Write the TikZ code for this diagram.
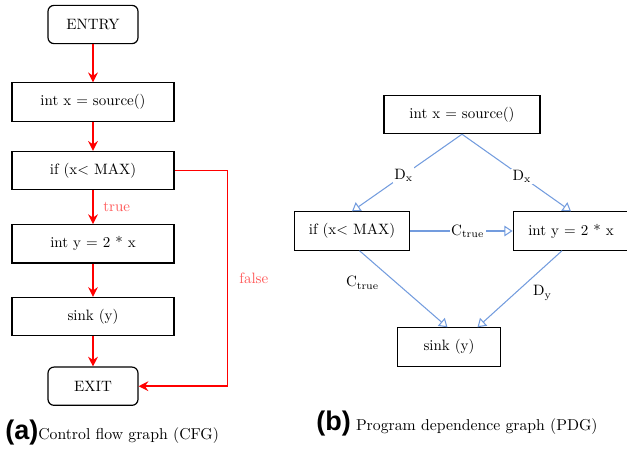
\documentclass[tikz,border=0pt]{standalone}
\usepackage{fontspec}
\newfontfamily\capfont{Liberation Sans}
\usetikzlibrary{arrows.meta,calc}
\definecolor{FlowClr}{rgb}{1,0,0}
\definecolor{LabelClr}{rgb}{1,0.35,0.35}
\definecolor{DepClr}{rgb}{0.45,0.61,0.87}

\begin{document}
\begin{tikzpicture}[x=0.6667pt,y=-0.6667pt,
  stmt/.style={draw,line width=0.8pt,minimum height=25.5pt,inner sep=2pt},
  term/.style={stmt,rounded corners=4pt,minimum width=60pt},
  cfg/.style={stmt,minimum width=108pt},
  flow/.style={draw=FlowClr,line width=1.1pt,-{Stealth[length=6.5pt,width=6.5pt,inset=2.2pt]}},
  dep/.style={draw=DepClr,line width=0.7pt,-{Triangle[open,length=5.5pt,width=7pt]}},
  deplbl/.style={fill=white,inner sep=1pt},
  caption/.style={anchor=base west,inner sep=0pt,font=\fontsize{10.5}{12}\selectfont}]
\useasboundingbox (0,0) rectangle (627,456);

\node[term] (entry) at (93,24.5) {ENTRY};
\node[cfg] (srcA) at (93,102) {int x = source()};
\node[cfg] (ifA) at (93,170.5) {if (x< MAX)};
\node[cfg] (intyA) at (93,243.8) {int y = 2 * x};
\node[cfg] (sinkA) at (93,316.6) {sink (y)};
\node[term] (exit) at (93,386.2) {EXIT};

\draw[flow] (entry) -- (srcA);
\draw[flow] (srcA) -- (ifA);
\draw[flow] (ifA) -- node[right=3pt,text=LabelClr] {true} (intyA);
\draw[flow] (intyA) -- (sinkA);
\draw[flow] (sinkA) -- (exit);
\draw[flow] (ifA.east) -- ++(53,0) |- node[pos=0.25,right=4pt,text=LabelClr] {false} (exit.east);

\node[stmt,minimum width=104pt] (srcB) at (462,114.5) {int x = source()};
\node[stmt,minimum width=77pt] (ifB) at (352,231) {if (x< MAX)};
\node[stmt,minimum width=77pt] (intyB) at (571,231) {int y = 2 * x};
\node[stmt,minimum width=69pt] (sinkB) at (449,347) {sink (y)};

\draw[dep] (srcB.south) -- node[pos=0.53,deplbl] {D$_\mathrm{x}$} (ifB.north);
\draw[dep] (srcB.south) -- node[pos=0.55,deplbl] {D$_\mathrm{x}$} (intyB.north);
\draw[dep] (ifB.east) -- node[pos=0.56,deplbl] {C$_\mathrm{true}$} (intyB.west);
\draw[dep] ([xshift=5pt]ifB.south) -- node[pos=0.42,left=8pt] {C$_\mathrm{true}$} ([xshift=-1pt]sinkB.north);
\draw[dep] ([xshift=-6pt]intyB.south) -- node[pos=0.55,right=8pt] {D$_\mathrm{y}$} ([xshift=19pt]sinkB.north);

\node[caption] (capA) at (5,439) {{\capfont\bfseries\fontsize{18}{18}\selectfont(a)}Control flow graph (CFG)};
\node[caption] (capB) at (316,430) {{\capfont\bfseries\fontsize{18}{18}\selectfont(b)}\ Program dependence graph (PDG)};

\end{tikzpicture}
\end{document}
